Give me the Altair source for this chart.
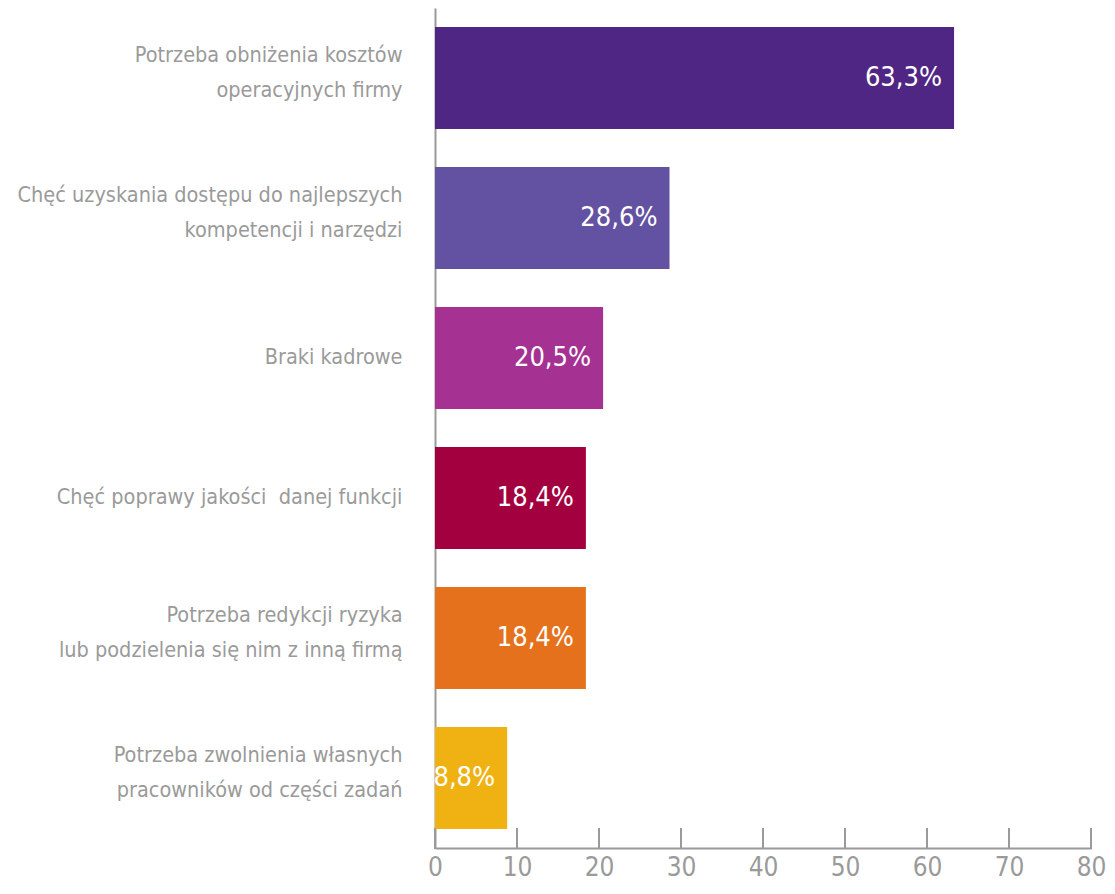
import altair as alt
import pandas as pd

categories = [
    "Potrzeba obniżenia kosztów|operacyjnych firmy",
    "Chęć uzyskania dostępu do najlepszych|kompetencji i narzędzi",
    "Braki kadrowe",
    "Chęć poprawy jakości \u00a0danej funkcji",
    "Potrzeba redykcji ryzyka|lub podzielenia się nim z inną firmą",
    "Potrzeba zwolnienia własnych|pracowników od części zadań",
]
values = [63.3, 28.6, 20.5, 18.4, 18.4, 8.8]
colors = ["#4f2683", "#6351a1", "#a53192", "#a3003f", "#e5711d", "#f0b113"]
ticks = [0, 10, 20, 30, 40, 50, 60, 70, 80]

FONT = "DejaVu Sans Condensed"
GREY = "#9a9a9a"

df = pd.DataFrame({
    "cat": categories,
    "val": values,
    "lab": [f"{v:.1f}".replace(".", ",") + "%" for v in values],
})
tdf = pd.DataFrame({"t": ticks})

xscale = alt.Scale(domain=[0, 80], nice=False, zero=True)
yscale = alt.Scale(domain=categories, paddingInner=0.27, paddingOuter=0.135)

base = alt.Chart(df)

bars = base.mark_bar().encode(
    x=alt.X("val:Q", scale=xscale, axis=alt.Axis(
        values=ticks, title=None, grid=False, ticks=False, domain=True,
        domainColor=GREY, domainWidth=2, labelColor=GREY, labelFont=FONT,
        labelFontSize=26, labelPadding=6, labelBaseline="top", labelFlush=False)),
    y=alt.Y("cat:N", scale=yscale, sort=categories, axis=alt.Axis(
        title=None, ticks=False, domain=True, domainColor=GREY, domainWidth=2,
        labelColor=GREY, labelFont=FONT, labelFontSize=21.5, labelPadding=33,
        labelLineHeight=35, labelLimit=0,
        labelOffset={"condition": {"test": "indexof(datum.value, '|') >= 0", "value": -22}, "value": 0},
        labelExpr="split(datum.label, '|')")),
    color=alt.Color("cat:N", scale=alt.Scale(domain=categories, range=colors), legend=None),
)

text = base.mark_text(align="right", baseline="middle", dx=-12, color="white",
                      font=FONT, fontSize=27).encode(
    x=alt.X("val:Q", scale=xscale),
    y=alt.Y("cat:N", scale=yscale, sort=categories),
    text="lab:N",
)

tickmarks = alt.Chart(tdf).mark_rule(color=GREY, strokeWidth=2).encode(
    x=alt.X("t:Q", scale=xscale),
    y=alt.value(820),
    y2=alt.value(841),
)

chart = alt.layer(bars, text, tickmarks).properties(
    width=656, height=840,
    autosize=alt.AutoSizeParams(type="none"),
    padding={"left": 427, "top": 0, "right": 16, "bottom": 37},
).configure_view(stroke=None)

chart.save("out.html", embed_options={"renderer": "svg", "actions": False})
